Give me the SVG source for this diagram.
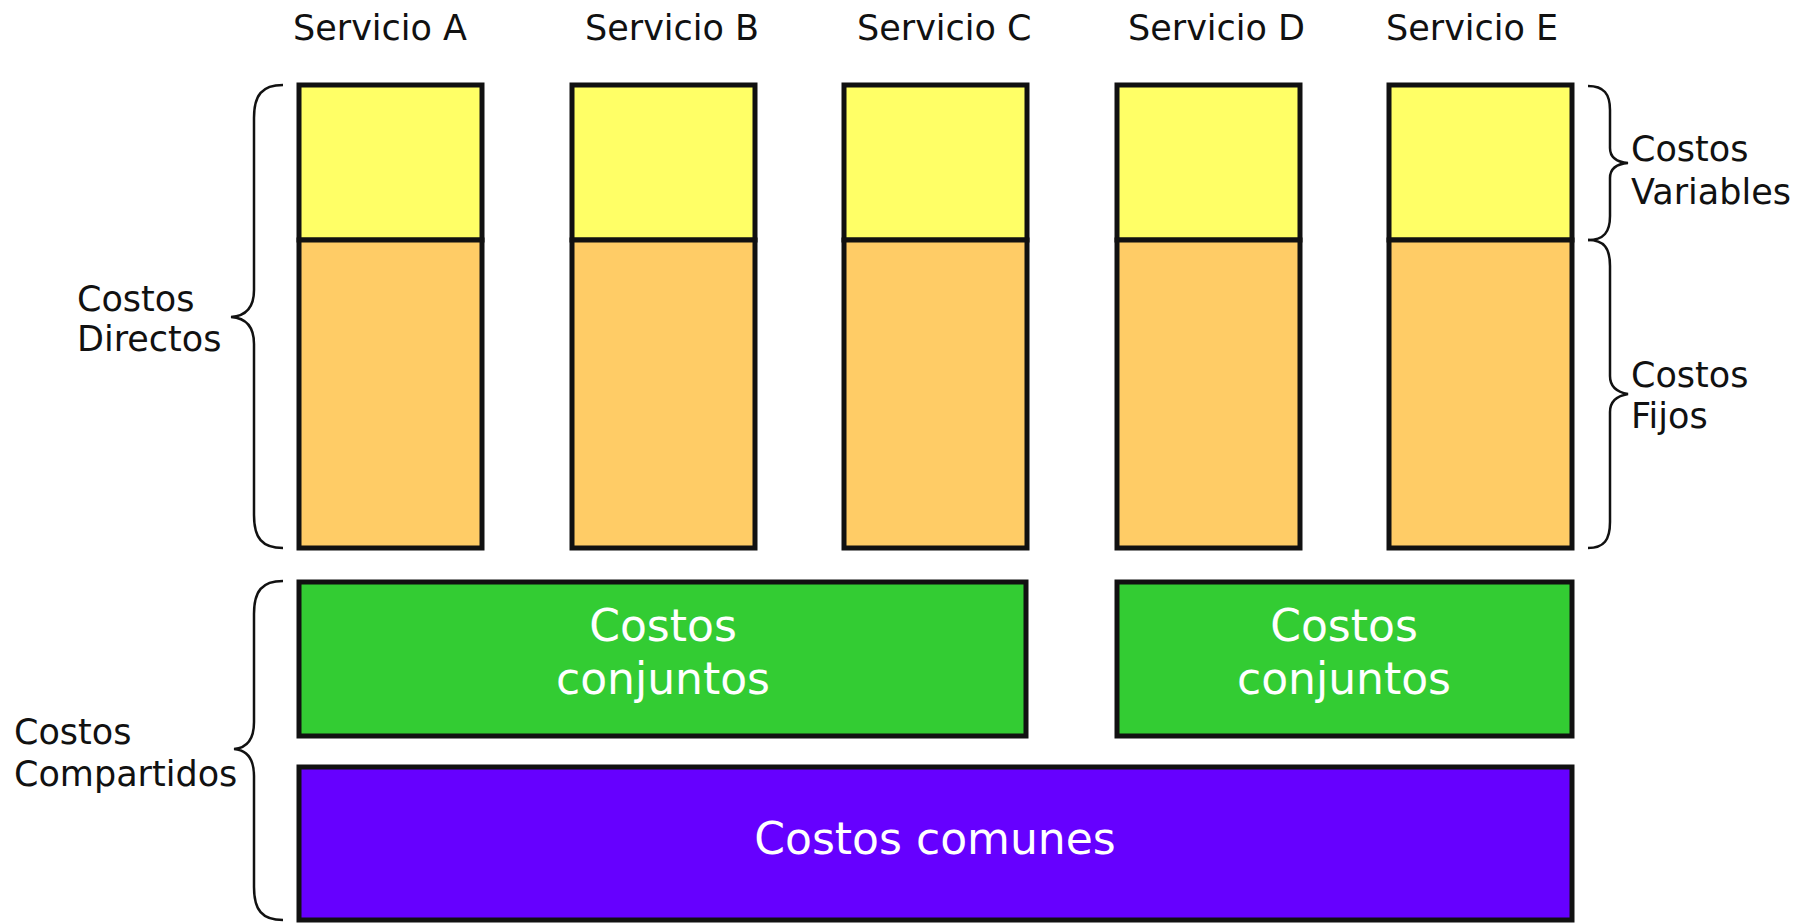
<svg xmlns="http://www.w3.org/2000/svg" width="1804" height="924" viewBox="0 0 1804 924">
<style>
.bg{fill:#ffffff}
.lbl{font-family:"DejaVu Sans","Liberation Sans",sans-serif;font-size:35px;fill:#111111}
.in{font-family:"DejaVu Sans","Liberation Sans",sans-serif;font-size:44px;fill:#ffffff;text-anchor:middle}
.box{stroke:#111111;stroke-width:5}
.var{fill:#FFFF66}
.fij{fill:#FFCC66}
.conj{fill:#33CC33}
.com{fill:#6600FF}
.brace{fill:none;stroke:#111111;stroke-width:2.5}
</style>
<rect class="bg" x="0" y="0" width="1804" height="924"/>
<g id="servicio-a">
<text class="lbl" x="293" y="40">Servicio A</text>
<rect class="box var" x="299" y="85" width="183" height="155"/>
<rect class="box fij" x="299" y="240" width="183" height="308"/>
</g>
<g id="servicio-b">
<text class="lbl" x="585" y="40">Servicio B</text>
<rect class="box var" x="572" y="85" width="183" height="155"/>
<rect class="box fij" x="572" y="240" width="183" height="308"/>
</g>
<g id="servicio-c">
<text class="lbl" x="857" y="40">Servicio C</text>
<rect class="box var" x="844" y="85" width="183" height="155"/>
<rect class="box fij" x="844" y="240" width="183" height="308"/>
</g>
<g id="servicio-d">
<text class="lbl" x="1128" y="40">Servicio D</text>
<rect class="box var" x="1117" y="85" width="183" height="155"/>
<rect class="box fij" x="1117" y="240" width="183" height="308"/>
</g>
<g id="servicio-e">
<text class="lbl" x="1386" y="40">Servicio E</text>
<rect class="box var" x="1389" y="85" width="183" height="155"/>
<rect class="box fij" x="1389" y="240" width="183" height="308"/>
</g>
<g id="costos-conjuntos-1">
<rect class="box conj" x="299" y="582" width="727" height="154"/>
<text class="in" x="663" y="641">Costos</text>
<text class="in" x="663" y="694">conjuntos</text>
</g>
<g id="costos-conjuntos-2">
<rect class="box conj" x="1117" y="582" width="455" height="154"/>
<text class="in" x="1344" y="641">Costos</text>
<text class="in" x="1344" y="694">conjuntos</text>
</g>
<g id="costos-comunes">
<rect class="box com" x="299" y="767" width="1273" height="153"/>
<text class="in" x="935" y="854">Costos comunes</text>
</g>
<g id="connectors">
<path class="brace" d="M283 85 C262 85 254 95 254 118 L254 290 C254 308 246 316 231 317 C246 318 254 326 254 344 L254 515 C254 538 262 548 283 548"/>
<path class="brace" d="M283 581 C262 581 254 591 254 614 L254 722 C254 740 246 748 234 749 C246 750 254 758 254 776 L254 887 C254 910 262 920 283 920"/>
<path class="brace" d="M1588 86 C1604 86 1610 94 1610 110 L1610 148 C1610 157 1616 162 1628 163 C1616 164 1610 169 1610 178 L1610 216 C1610 232 1604 240 1588 240"/>
<path class="brace" d="M1588 240 C1604 240 1610 248 1610 266 L1610 376 C1610 386 1616 392 1628 394 C1616 396 1610 402 1610 412 L1610 522 C1610 540 1604 548 1588 548"/>
</g>
<g id="labels">
<text class="lbl" x="77" y="311">Costos</text>
<text class="lbl" x="77" y="351">Directos</text>
<text class="lbl" x="14" y="744">Costos</text>
<text class="lbl" x="14" y="786">Compartidos</text>
<text class="lbl" x="1631" y="161">Costos</text>
<text class="lbl" x="1631" y="204">Variables</text>
<text class="lbl" x="1631" y="387">Costos</text>
<text class="lbl" x="1631" y="428">Fijos</text>
</g>
</svg>
